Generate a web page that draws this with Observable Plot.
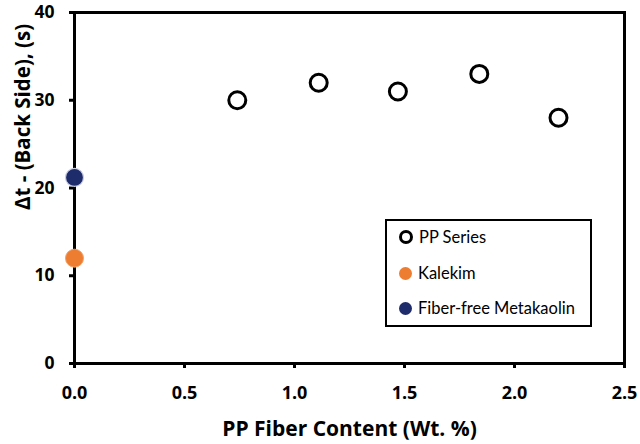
<!DOCTYPE html>
<html>
<head>
<meta charset="utf-8">
<script src="https://cdn.jsdelivr.net/npm/d3@7"></script>
<script src="https://cdn.jsdelivr.net/npm/@observablehq/plot@0.6"></script>
<style>
  body { margin: 0; background: #fff; }
  #wrap { position: relative; width: 640px; height: 444px; overflow: hidden; }
  .legend { position: absolute; left: 385px; top: 219px; width: 207px; height: 108px; box-sizing: border-box;
            border: 2.5px solid #000; background: #fff; font-family: Lato, "Open Sans", sans-serif; font-size: 16.5px; color: #000; }
  .row { position: absolute; left: 12px; height: 20px; display: flex; align-items: center; white-space: nowrap; }
  .sym { display: inline-block; box-sizing: border-box; border-radius: 50%; margin-right: 6px; }
</style>
</head>
<body>
<div id="wrap"></div>
<script>
// PP Fiber Content (Wt. %) and Δt (s)
const ppContent = [0.74, 1.11, 1.47, 1.84, 2.20];
const ppDelta = [30, 32, 31, 33, 28];
const kalekimContent = [0];
const kalekimDelta = [12];
const metaContent = [0];
const metaDelta = [21.2];
const xTicks = [0, 0.5, 1.0, 1.5, 2.0, 2.5];
const yTicks = [0, 10, 20, 30, 40];
const seriesNames = ["PP Series", "Kalekim", "Fiber-free Metakaolin"];
const seriesColors = ["#ffffff", "#ED7D31", "#1F2C6B"];
const xLabel = "PP Fiber Content (Wt. %)";
const yLabel = "Δt - (Back Side), (s)";

const pp = ppContent.map((x, i) => ({x, y: ppDelta[i]}));
const kal = kalekimContent.map((x, i) => ({x, y: kalekimDelta[i]}));
const meta = metaContent.map((x, i) => ({x, y: metaDelta[i]}));

const axisFont = "'Open Sans', Lato, sans-serif";

const chart = Plot.plot({
  width: 640,
  height: 444,
  marginLeft: 74,
  marginRight: 16,
  marginTop: 12,
  marginBottom: 81,
  style: { fontFamily: axisFont, background: "#fff", color: "#000" },
  x: { domain: [0, 2.5] },
  y: { domain: [0, 40] },
  marks: [
    Plot.frame({ stroke: "#000", strokeWidth: 3 }),
    Plot.axisX({ ticks: xTicks, tickFormat: d3.format(".1f"), tickSize: 5, tickPadding: 18,
                 strokeWidth: 3, fontSize: 18, fontWeight: "bold", label: null }),
    Plot.axisY({ ticks: yTicks, tickFormat: d3.format("d"), tickSize: 5, tickPadding: 15,
                 strokeWidth: 3, fontSize: 17.5, fontWeight: "bold", label: null }),
    Plot.text([xLabel], { text: d => d, frameAnchor: "bottom", dy: 66, lineAnchor: "middle",
                          fontSize: 21, fontWeight: "bold" }),
    Plot.text([yLabel], { text: d => d, frameAnchor: "left", dx: -51, dy: 22, rotate: -90, lineAnchor: "middle",
                          fontSize: 20.5, fontWeight: "bold" }),
    Plot.dot(pp, { x: "x", y: "y", r: 8.5, fill: seriesColors[0], stroke: "#000", strokeWidth: 3 }),
    Plot.dot(kal, { x: "x", y: "y", r: 9, fill: seriesColors[1], stroke: "#f3a36a", strokeWidth: 1 }),
    Plot.dot(meta, { x: "x", y: "y", r: 9, fill: seriesColors[2], stroke: "#c9cde0", strokeWidth: 1.2 })
  ]
});

const wrap = document.getElementById("wrap");
wrap.appendChild(chart);

const legend = document.createElement("div");
legend.className = "legend";
const rowTops = [6, 42, 77];
seriesNames.forEach((name, i) => {
  const row = document.createElement("div");
  row.className = "row";
  row.style.top = rowTops[i] + "px";
  const sym = document.createElement("span");
  sym.className = "sym";
  if (i === 0) {
    sym.style.width = "14px"; sym.style.height = "14px";
    sym.style.border = "3px solid #000"; sym.style.background = "#fff";
  } else {
    sym.style.width = "13px"; sym.style.height = "13px";
    sym.style.background = seriesColors[i];
  }
  const label = document.createElement("span");
  label.textContent = name;
  row.appendChild(sym);
  row.appendChild(label);
  legend.appendChild(row);
});
wrap.appendChild(legend);
</script>
</body>
</html>
